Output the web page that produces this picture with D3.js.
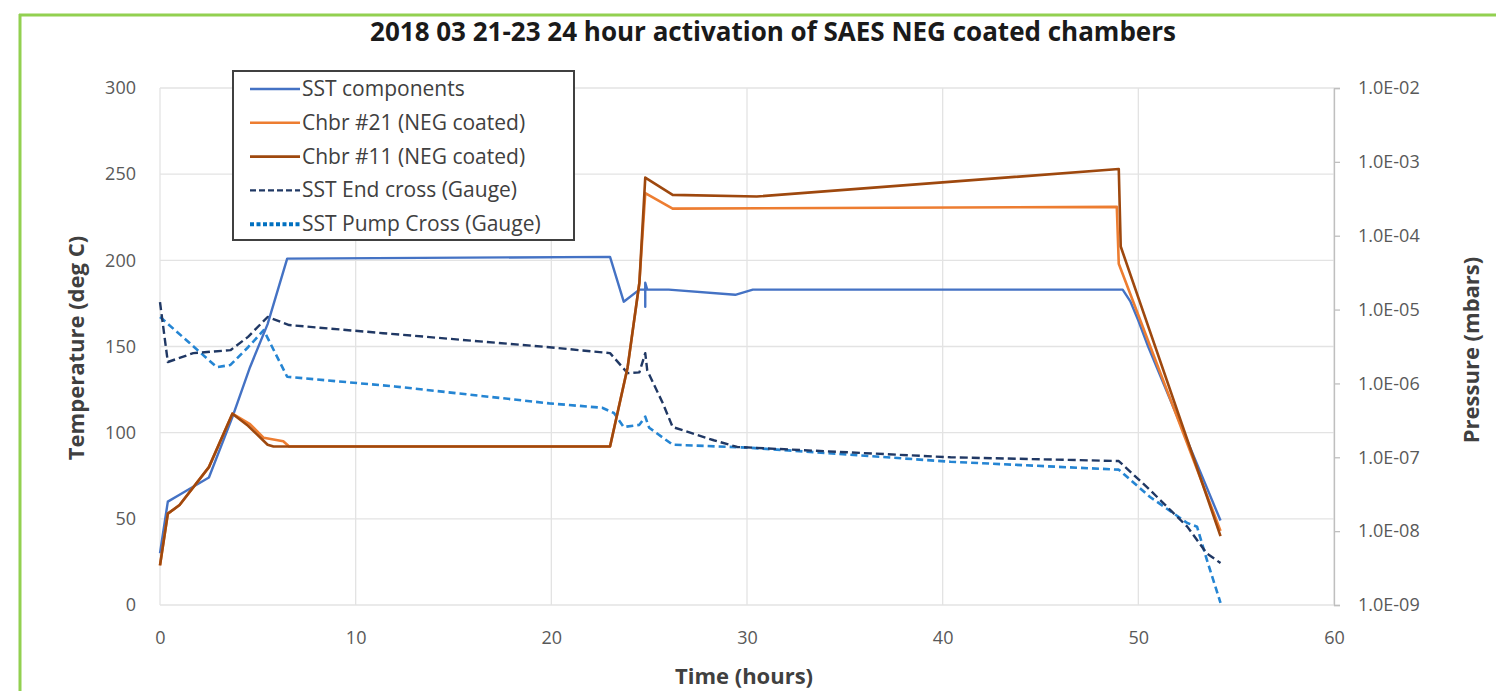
<!DOCTYPE html>
<html>
<head>
<meta charset="utf-8">
<script src="https://cdn.jsdelivr.net/npm/d3@7"></script>
<style>
  body { margin: 0; background: #fff; }
  svg { display: block; font-family: "Open Sans", Lato, sans-serif; }
</style>
</head>
<body>
<svg id="chart" width="1496" height="691"></svg>
<script>
// temperature series (deg C)
var sstTime = [0, 0.4, 1.0, 2.5, 3.7, 4.6, 5.5, 6.5, 23.0, 23.7, 24.5, 24.8, 24.8, 24.8, 24.9, 26.0, 29.4, 30.3, 49.2, 49.6, 50.0, 50.5, 54.2];
var sstTemp = [30, 60, 64, 74, 109, 138, 163, 201, 202, 176, 183, 183, 173, 187, 183, 183, 180, 183, 183, 176, 165, 150, 49];

var ch21Time = [0, 0.4, 1.0, 2.5, 3.7, 4.6, 5.3, 6.3, 6.6, 23.0, 23.9, 24.5, 24.8, 26.2, 48.9, 49.0, 54.2];
var ch21Temp = [23, 53, 58, 80, 111, 105, 97, 95, 92, 92, 138, 187, 239, 230, 231, 198, 43];

var ch11Time = [0, 0.4, 1.0, 2.5, 3.7, 4.5, 5.5, 5.8, 23.0, 23.9, 24.5, 24.8, 26.2, 30.5, 49.0, 49.1, 54.2];
var ch11Temp = [23, 53, 58, 80, 111, 104, 93, 92, 92, 138, 187, 248, 238, 237, 253, 208, 40];

// pressure series (mbar)
var endTime = [0, 0.4, 1.7, 3.6, 4.5, 5.5, 6.6, 11.4, 19.9, 23.0, 23.9, 24.5, 24.8, 24.9, 25.7, 26.2, 28.3, 29.5, 40.4, 49.0, 50.6, 52.5, 53.5, 54.2];
var endPress = [1.26e-5, 1.95e-6, 2.57e-6, 2.82e-6, 4.27e-6, 7.94e-6, 6.17e-6, 4.79e-6, 3.09e-6, 2.57e-6, 1.38e-6, 1.41e-6, 2.57e-6, 1.51e-6, 5.37e-7, 2.57e-7, 1.70e-7, 1.38e-7, 1.0e-7, 8.9e-8, 3.6e-8, 1.15e-8, 5.0e-9, 3.7e-9];

var pumpTime = [0, 1.5, 2.9, 3.6, 4.5, 5.3, 6.5, 12, 19.9, 22.6, 23.2, 23.7, 24.5, 24.8, 25.0, 26.2, 30.1, 40.4, 49.0, 50.6, 52.5, 53.0, 53.5, 54.2];
var pumpPress = [7.94e-6, 3.55e-6, 1.66e-6, 1.78e-6, 3.09e-6, 5.25e-6, 1.23e-6, 9.1e-7, 5.37e-7, 4.68e-7, 3.98e-7, 2.57e-7, 2.75e-7, 3.55e-7, 2.51e-7, 1.48e-7, 1.35e-7, 8.7e-8, 6.8e-8, 2.9e-8, 1.29e-8, 1.15e-8, 4.1e-9, 1.07e-9];

var xTicks = [0, 10, 20, 30, 40, 50, 60];
var yTicks = [0, 50, 100, 150, 200, 250, 300];
var pTicks = [1e-9, 1e-8, 1e-7, 1e-6, 1e-5, 1e-4, 1e-3, 1e-2];

var legendNames = ["SST components", "Chbr #21 (NEG coated)", "Chbr #11 (NEG coated)", "SST End cross (Gauge)", "SST Pump Cross (Gauge)"];

var svg = d3.select("#chart");
var plotL = 160, plotR = 1334, plotT = 88, plotB = 605;

var x = d3.scaleLinear().domain([0, 60]).range([plotL, plotR]);
var y = d3.scaleLinear().domain([0, 300]).range([plotB, plotT]);
var yp = d3.scaleLog().domain([1e-9, 1e-2]).range([plotB, plotT]);

// frame
svg.append("line").attr("x1", 19).attr("x2", 1496).attr("y1", 15).attr("y2", 15)
  .attr("stroke", "#92D050").attr("stroke-width", 3);
svg.append("line").attr("x1", 20).attr("x2", 20).attr("y1", 14).attr("y2", 691)
  .attr("stroke", "#92D050").attr("stroke-width", 3);

// gridlines
svg.append("g").selectAll("line").data(yTicks).enter().append("line")
  .attr("x1", plotL).attr("x2", plotR)
  .attr("y1", function(d) { return y(d); }).attr("y2", function(d) { return y(d); })
  .attr("stroke", "#E3E3E3").attr("stroke-width", 1.3);
svg.append("g").selectAll("line").data(xTicks).enter().append("line")
  .attr("x1", function(d) { return x(d); }).attr("x2", function(d) { return x(d); })
  .attr("y1", plotT).attr("y2", plotB)
  .attr("stroke", "#E3E3E3").attr("stroke-width", 1.3);

// right axis
var rAxis = svg.append("g").attr("transform", "translate(" + plotR + ",0)")
  .call(d3.axisRight(yp).tickValues(pTicks).tickSize(6).tickPadding(18)
    .tickFormat(function(d) { return "1.0E-" + String(Math.round(-Math.log10(d))).padStart(2, "0"); }));
rAxis.select(".domain").attr("stroke", "#BFBFBF").attr("stroke-width", 1.3);
rAxis.selectAll(".tick line").attr("stroke", "#BFBFBF").attr("stroke-width", 1.3);
rAxis.selectAll("text").attr("fill", "#595959").style("font-size", "18px").style("font-family", "'Open Sans', sans-serif");

// left axis
var lAxis = svg.append("g").attr("transform", "translate(" + plotL + ",0)")
  .call(d3.axisLeft(y).tickValues(yTicks).tickSize(0).tickPadding(24));
lAxis.select(".domain").remove();
lAxis.selectAll("text").attr("fill", "#595959").style("font-size", "18px").style("font-family", "'Open Sans', sans-serif");

// bottom axis
var bAxis = svg.append("g").attr("transform", "translate(0," + plotB + ")")
  .call(d3.axisBottom(x).tickValues(xTicks).tickSize(0).tickPadding(26));
bAxis.select(".domain").remove();
bAxis.selectAll("text").attr("fill", "#595959").style("font-size", "18px").style("font-family", "'Open Sans', sans-serif");

// series
var tempLine = d3.line().x(function(d) { return x(d[0]); }).y(function(d) { return y(d[1]); });
var pressLine = d3.line().x(function(d) { return x(d[0]); }).y(function(d) { return yp(d[1]); });

var series = [
  { t: pumpTime, v: pumpPress, line: pressLine, color: "#2585D3", dash: "7,4", w: 2.6 },
  { t: endTime, v: endPress, line: pressLine, color: "#203864", dash: "8,4", w: 2.4 },
  { t: sstTime, v: sstTemp, line: tempLine, color: "#4472C4", dash: null, w: 2.4 },
  { t: ch21Time, v: ch21Temp, line: tempLine, color: "#ED7D31", dash: null, w: 2.6 },
  { t: ch11Time, v: ch11Temp, line: tempLine, color: "#9E480E", dash: null, w: 2.6 }
];
series.forEach(function(s) {
  var pts = d3.zip(s.t, s.v);
  svg.append("path").datum(pts).attr("d", s.line)
    .attr("fill", "none").attr("stroke", s.color).attr("stroke-width", s.w)
    .attr("stroke-linejoin", "round")
    .attr("stroke-dasharray", s.dash);
});

// legend
var legend = svg.append("g");
legend.append("rect").attr("x", 233).attr("y", 71).attr("width", 341).attr("height", 169)
  .attr("fill", "#fff").attr("stroke", "#404040").attr("stroke-width", 2);
var legColors = ["#4472C4", "#ED7D31", "#9E480E", "#203864", "#0070C0"];
var legDash = [null, null, null, "6,3", "4,2.5"];
var legWidth = [2.4, 2.6, 2.6, 2.4, 4];
legendNames.forEach(function(name, i) {
  var ly = 89 + i * 33.8;
  legend.append("line").attr("x1", 250).attr("x2", 300).attr("y1", ly).attr("y2", ly)
    .attr("stroke", legColors[i]).attr("stroke-width", legWidth[i]).attr("stroke-dasharray", legDash[i]);
  legend.append("text").attr("x", 302).attr("y", ly + 7).text(name)
    .attr("fill", "#404040").style("font-size", "21px");
});

// titles
svg.append("text").attr("x", 773).attr("y", 41).attr("text-anchor", "middle")
  .text("2018 03 21-23 24 hour activation of SAES NEG coated chambers")
  .style("font-size", "26px").style("font-weight", "bold").attr("fill", "#1a1a1a");
svg.append("text").attr("x", 744).attr("y", 684).attr("text-anchor", "middle")
  .text("Time (hours)").style("font-size", "22px").style("font-weight", "bold").attr("fill", "#404040");
svg.append("text").attr("transform", "translate(84,348) rotate(-90)").attr("text-anchor", "middle")
  .text("Temperature (deg C)").style("font-size", "22px").style("font-weight", "bold").attr("fill", "#404040");
svg.append("text").attr("transform", "translate(1479,350) rotate(-90)").attr("text-anchor", "middle")
  .text("Pressure (mbars)").style("font-size", "22px").style("font-weight", "bold").attr("fill", "#404040");
</script>
</body>
</html>
